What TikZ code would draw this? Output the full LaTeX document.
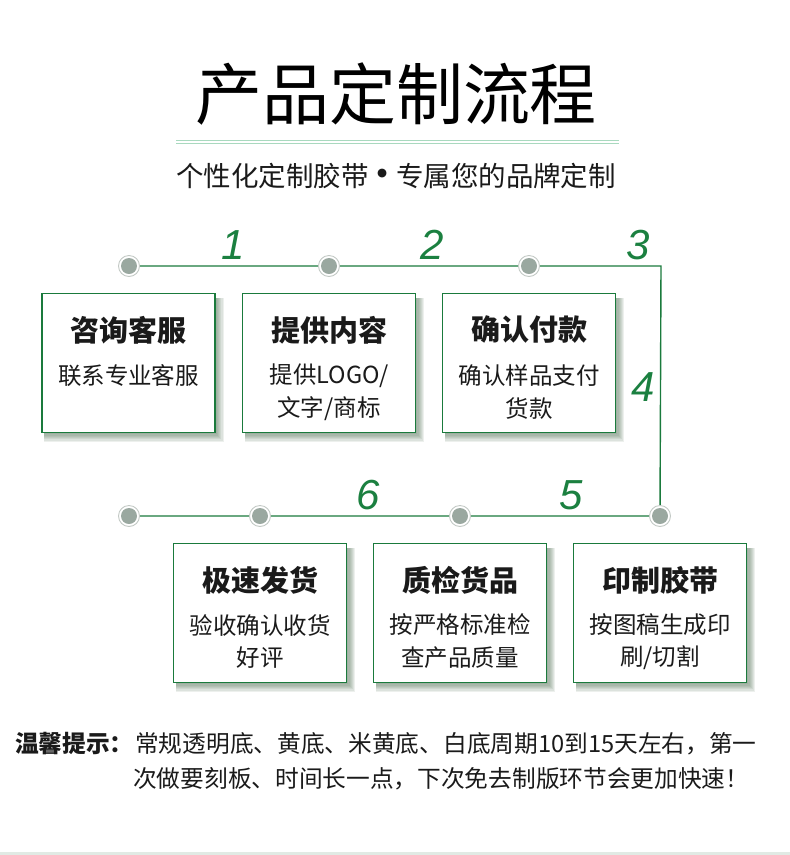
\documentclass[tikz,border=0pt]{standalone}
\usepackage{fontspec}
\setmainfont{Noto Sans CJK SC}
\newfontfamily\numfont{Liberation Sans}
\newfontfamily\symfont{DejaVu Sans}
\usetikzlibrary{calc,backgrounds}
\definecolor{lineg}{HTML}{1A7A3C}
\definecolor{numg}{HTML}{1B8040}
\definecolor{mint}{HTML}{A9D9BF}
\definecolor{dotgray}{HTML}{9AA8A0}
\definecolor{ringgray}{HTML}{C3C9C5}
\definecolor{shadowc}{HTML}{4A6A4D}
\definecolor{bandc}{HTML}{E1EAE4}
\definecolor{txt}{HTML}{1A1A1A}
\tikzset{
  flow/.style={draw=lineg, line width=1.4pt},
  ring/.style={circle, draw=ringgray, line width=0.9pt, fill=white, minimum size=21pt, inner sep=0pt},
  dotc/.style={circle, fill=dotgray, minimum size=16pt, inner sep=0pt},
  stepbox/.style={rectangle, draw=lineg, line width=1.4pt, fill=white, minimum width=173pt, minimum height=139pt, inner sep=0pt},
  boxtitle/.style={font=\fontsize{29}{32}\selectfont\bfseries, text=txt, inner sep=0pt},
  boxsub/.style={font=\fontsize{23.5}{26}\selectfont, text=txt, inner sep=0pt},
  num/.style={font=\numfont\itshape\fontsize{42}{44}\selectfont, text=numg, inner sep=0pt},
}
\newcommand{\myshadow}[1]{%
  \begin{pgfonlayer}{background}
  \foreach \k in {1,...,7}{
    \fill[shadowc, opacity=0.1] ($(#1.north west)+(3,5)$) rectangle ($(#1.south east)+(\k*1.15,\k*1.25)$);
  }
  \end{pgfonlayer}}
\begin{document}
\begin{tikzpicture}[x=1pt,y=-1pt]
\useasboundingbox (0,0) rectangle (790,855);
% title
\node[font=\fontsize{67}{70}\selectfont, text=black, inner sep=0pt] (title) at (396,94) {产品定制流程};
\coordinate (ml1) at (176,140); \coordinate (mr1) at (619,140);
\coordinate (ml2) at (176,143); \coordinate (mr2) at (619,143);
\draw[mint, line width=1pt] (ml1) -- (mr1);
\draw[mint, line width=1pt] (ml2) -- (mr2);
\node[font=\fontsize{27.5}{30}\selectfont, text=txt, inner sep=0pt] (subtitle) at (396,176) {个性化定制胶带\makebox[1em][c]{\raisebox{10pt}{\symfont\fontsize{11.5}{12}\selectfont ●}}专属您的品牌定制};
% path
\coordinate (p1) at (129,266);
\coordinate (p2) at (329,266);
\coordinate (p3) at (529,266);
\coordinate (pc) at (661,266);
\coordinate (p4) at (660,516);
\coordinate (p5) at (460,516);
\coordinate (p6) at (260,516);
\coordinate (p7) at (129,516);
\draw[flow] (p1) -- (p2) -- (p3) -- (pc) -- (p4) -- (p5) -- (p6) -- (p7);
\foreach \p in {p1,p2,p3,p4,p5,p6,p7}{
  \node[ring] (r\p) at (\p) {};
  \node[dotc] (d\p) at (\p) {};
}
% numbers
\node[num] (n1) at (233,245) {1};
\node[num] (n2) at (432,245) {2};
\node[num] (n3) at (638,245) {3};
\node[num] (n4) at (643,387) {4};
\node[num] (n5) at (571,495) {5};
\node[num] (n6) at (368,495) {6};
% boxes
\node[stepbox] (b1) at (128.5,363) {};
\node[stepbox] (b2) at (329,363) {};
\node[stepbox] (b3) at (529,363) {};
\node[stepbox] (b4) at (660,613) {};
\node[stepbox] (b5) at (460,613) {};
\node[stepbox] (b6) at (260,613) {};
\myshadow{b1}\myshadow{b2}\myshadow{b3}\myshadow{b4}\myshadow{b5}\myshadow{b6}
\node[boxtitle] (t1) at (128.5,330) {咨询客服};
\node[boxsub] (s1) at (128.5,376) {联系专业客服};
\node[boxtitle] (t2) at (329,330) {提供内容};
\node[boxsub] (s2a) at (329,376) {提供LOGO/};
\node[boxsub] (s2b) at (329,409) {文字/商标};
\node[boxtitle] (t3) at (529,330) {确认付款};
\node[boxsub] (s3a) at (529,376) {确认样品支付};
\node[boxsub] (s3b) at (529,409) {货款};
\node[boxtitle] (t4) at (660,580) {印制胶带};
\node[boxsub] (s4a) at (660,625) {按图稿生成印};
\node[boxsub] (s4b) at (660,658) {刷/切割};
\node[boxtitle] (t5) at (460,580) {质检货品};
\node[boxsub] (s5a) at (460,625) {按严格标准检};
\node[boxsub] (s5b) at (460,658) {查产品质量};
\node[boxtitle] (t6) at (260,580) {极速发货};
\node[boxsub] (s6a) at (260,625) {验收确认收货};
\node[boxsub] (s6b) at (260,658) {好评};
% note
\node[font=\fontsize{23.7}{26}\selectfont\bfseries, text=txt, inner sep=0pt, anchor=west] (nl) at (15,744) {温馨提示：};
\node[font=\fontsize{23.7}{26}\selectfont, text=txt, inner sep=0pt, anchor=west] (nt1) at (135,744) {常规透明底、黄底、米黄底、白底周期10到15天左右，第一};
\node[font=\fontsize{23.7}{26}\selectfont, text=txt, inner sep=0pt, anchor=west] (nt2) at (133,779) {次做要刻板、时间长一点，下次免去制版环节会更加快速！};
% bottom band
\fill[bandc] (0,852) rectangle (790,855);
\end{tikzpicture}
\end{document}
